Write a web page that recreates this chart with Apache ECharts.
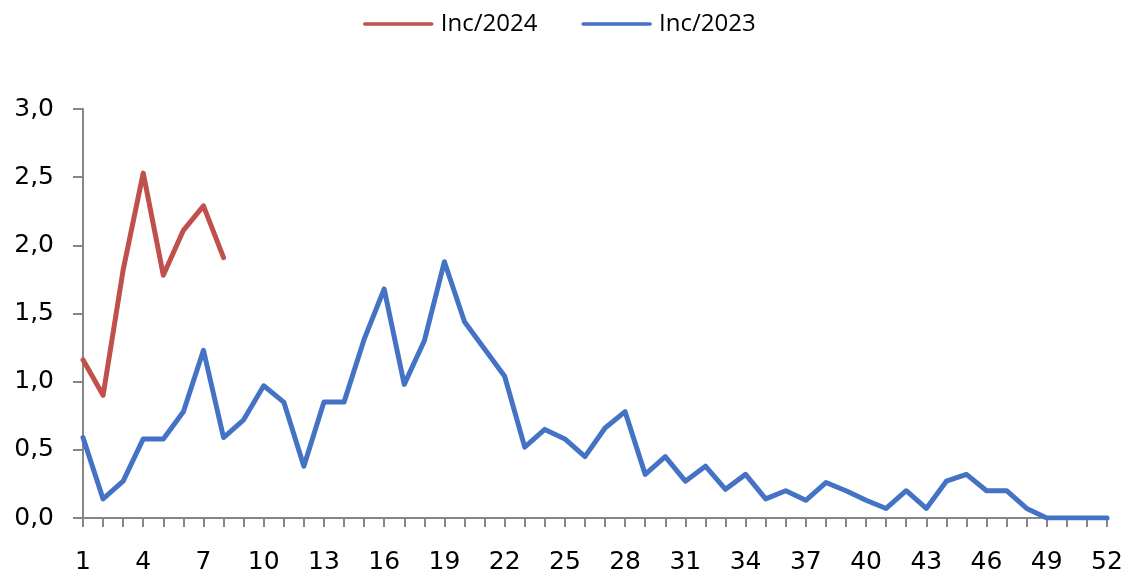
<!DOCTYPE html>
<html>
<head>
<meta charset="utf-8">
<script src="https://cdn.jsdelivr.net/npm/echarts@6/dist/echarts.min.js"></script>
<style>html,body{margin:0;padding:0;background:#fff}#c{width:1126px;height:577px}</style>
</head>
<body>
<div id="c"></div>
<script>
var weeks = [];
for (var i = 1; i <= 52; i++) weeks.push(String(i));
var inc2024 = [1.16, 0.90, 1.82, 2.53, 1.78, 2.11, 2.29, 1.91];
var inc2023 = [0.59, 0.14, 0.27, 0.58, 0.58, 0.78, 1.23, 0.59, 0.72, 0.97,
               0.85, 0.38, 0.85, 0.85, 1.31, 1.68, 0.98, 1.30, 1.88, 1.44,
               1.24, 1.04, 0.52, 0.65, 0.58, 0.45, 0.66, 0.78, 0.32, 0.45,
               0.27, 0.38, 0.21, 0.32, 0.14, 0.20, 0.13, 0.26, 0.20, 0.13,
               0.07, 0.20, 0.07, 0.27, 0.32, 0.20, 0.20, 0.07, 0.00, 0.00,
               0.00, 0.00];
var yTicks = {min: 0, max: 3, step: 0.5};

var chart = echarts.init(document.getElementById('c'), null, {renderer: 'canvas'});
chart.setOption({
  animation: false,
  backgroundColor: '#ffffff',
  legend: {
    top: 7, left: 358,
    itemWidth: 67, itemHeight: 14, itemGap: 44,
    textStyle: {fontFamily: 'Open Sans', fontSize: 24, color: '#000', padding: [0, 0, 0, 4]},
    data: [
      {name: 'Inc/2024', itemStyle: {opacity: 0}, lineStyle: {width: 3.5}},
      {name: 'Inc/2023', itemStyle: {opacity: 0}, lineStyle: {width: 3.5}}
    ]
  },
  grid: {left: 83, right: 19, top: 109, bottom: 59, containLabel: false},
  xAxis: {
    type: 'category', data: weeks, boundaryGap: false,
    axisLine: {lineStyle: {color: '#868686', width: 2}},
    axisTick: {show: true, interval: 0, length: 9, lineStyle: {color: '#868686', width: 2}},
    axisLabel: {interval: 2, margin: 32, fontFamily: 'DejaVu Sans', fontSize: 25, color: '#000'},
    splitLine: {show: false}
  },
  yAxis: {
    type: 'value', min: yTicks.min, max: yTicks.max, interval: yTicks.step,
    axisLine: {show: true, lineStyle: {color: '#868686', width: 2}},
    axisTick: {show: true, length: 10, lineStyle: {color: '#868686', width: 2}},
    axisLabel: {margin: 29, fontFamily: 'DejaVu Sans', fontSize: 25, color: '#000',
      formatter: function (v) { return v.toFixed(1).replace('.', ','); }},
    splitLine: {show: false}
  },
  series: [
    {name: 'Inc/2024', type: 'line', data: inc2024, symbol: 'none', showSymbol: false,
     color: '#C0504D', lineStyle: {color: '#C0504D', width: 5, join: 'round', cap: 'round'}},
    {name: 'Inc/2023', type: 'line', data: inc2023, symbol: 'none', showSymbol: false,
     color: '#4472C4', lineStyle: {color: '#4472C4', width: 5, join: 'round', cap: 'round'}}
  ]
});
</script>
</body>
</html>
